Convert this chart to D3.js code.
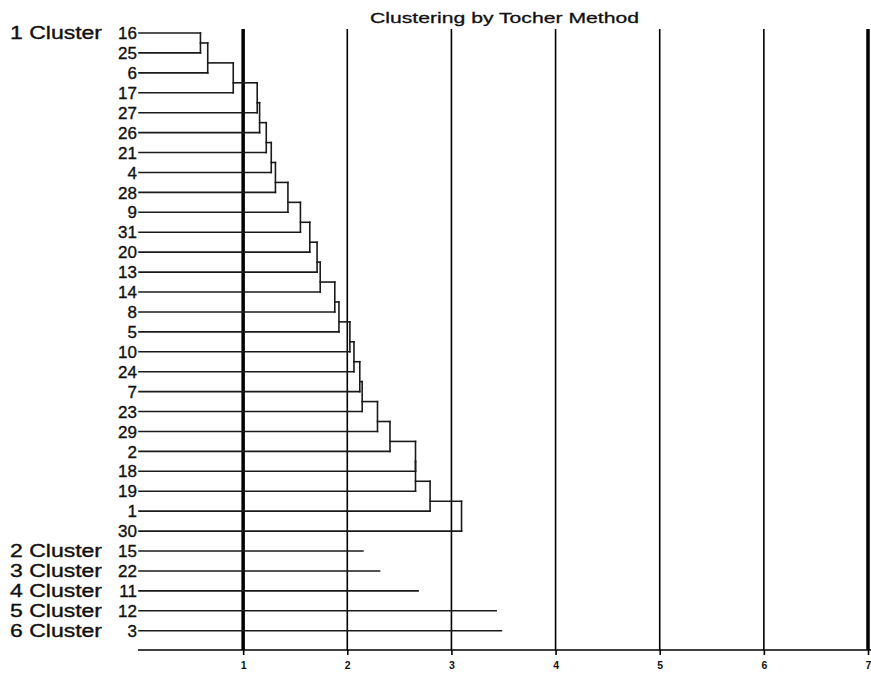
<!DOCTYPE html>
<html>
<head>
<meta charset="utf-8">
<script src="https://cdn.jsdelivr.net/npm/d3@7"></script>
<style>
  html, body { margin: 0; padding: 0; background: #fff; }
  svg { display: block; }
  text { font-family: "Liberation Sans", Arial, sans-serif; fill: #111; }
</style>
</head>
<body>
<svg id="chart" width="871" height="673"></svg>
<script>
// Leaves of cluster 1 in dendrogram order
const cluster1Leaves = ["16","25","6","17","27","26","21","4","28","9","31","20","13","14","8","5","10","24","7","23","29","2","18","19","1","30"];
// Height (distance) at which each leaf (index 1..25) joins the growing cluster
const joinHeights = [null,0.59,0.66,0.905,1.135,1.158,1.222,1.27,1.31,1.43,1.55,1.64,1.71,1.74,1.88,1.92,2.025,2.064,2.12,2.143,2.29,2.41,2.655,2.655,2.795,3.097];
// Singleton clusters and their line lengths
const singletonLeaves = ["15","22","11","12","3"];
const singletonValues = [2.15, 2.31, 2.68, 3.43, 3.48];
// Cluster labels and the leaf each one sits beside
const clusterNames = ["1 Cluster","2 Cluster","3 Cluster","4 Cluster","5 Cluster","6 Cluster"];
const clusterFirstLeaf = ["16","15","22","11","12","3"];
// Axis ticks
const tickValues = [1,2,3,4,5,6,7];
const titleText = "Clustering by Tocher Method";

const svg = d3.select("#chart");
const x = d3.scaleLinear().domain([0, 7]).range([139, 868]);
const allLeaves = cluster1Leaves.concat(singletonLeaves);
const y = d3.scalePoint().domain(allLeaves).range([33, 630.7]);
const axisY = 650;

// Gridlines
svg.append("g").selectAll("line").data(tickValues).join("line")
  .attr("x1", d => x(d)).attr("x2", d => x(d))
  .attr("y1", 29).attr("y2", axisY)
  .attr("stroke", "#000")
  .attr("stroke-width", d => (d === 1 || d === 7) ? 3.5 : 1.6);

// Axis
const axis = d3.axisBottom(x).tickValues(tickValues).tickSize(5).tickSizeOuter(0).tickFormat(d3.format("d"));
const ax = svg.append("g").attr("transform", `translate(0,${axisY})`).call(axis);
ax.select(".domain").attr("stroke", "#000").attr("stroke-width", 1.6)
  .attr("d", `M${x(0) - 1},0H871`);
ax.selectAll(".tick line").attr("stroke", "#000").attr("stroke-width", 1.6);
ax.selectAll(".tick text").attr("y", 12).attr("font-size", 10.5).attr("font-weight", "bold")
  .attr("font-family", "'Liberation Sans', Arial, sans-serif").attr("fill", "#111");

// Dendrogram segments
const segs = [];
const yl = i => y(cluster1Leaves[i]);
const nodeY = k => k === 0 ? yl(0) : (yl(k - 1) + yl(k)) / 2;
cluster1Leaves.forEach((leaf, i) => {
  const h = i === 0 ? joinHeights[1] : joinHeights[i];
  segs.push([x(0), yl(i), x(h), yl(i)]);
});
for (let k = 1; k < cluster1Leaves.length; k++) {
  const h = joinHeights[k];
  segs.push([x(h), nodeY(k - 1), x(h), yl(k)]);
  if (k >= 2) segs.push([x(joinHeights[k - 1]), nodeY(k - 1), x(h), nodeY(k - 1)]);
}
singletonLeaves.forEach((leaf, i) => {
  segs.push([x(0), y(leaf), x(singletonValues[i]), y(leaf)]);
});
svg.append("g").selectAll("line").data(segs).join("line")
  .attr("x1", d => d[0]).attr("y1", d => d[1]).attr("x2", d => d[2]).attr("y2", d => d[3])
  .attr("stroke", "#1a1a1a").attr("stroke-width", 1.6).attr("stroke-linecap", "square");

// Leaf labels
svg.append("g").selectAll("text").data(allLeaves).join("text")
  .attr("x", 137).attr("y", d => y(d)).attr("dy", "0.36em")
  .attr("text-anchor", "end").attr("font-size", 17)
  .attr("stroke", "#111").attr("stroke-width", 0.35)
  .text(d => d);

// Cluster labels
svg.append("g").selectAll("text").data(clusterNames).join("text")
  .attr("x", 10).attr("y", (d, i) => y(clusterFirstLeaf[i])).attr("dy", "0.36em")
  .attr("font-size", 18).attr("textLength", 92).attr("lengthAdjust", "spacingAndGlyphs")
  .attr("stroke", "#111").attr("stroke-width", 0.35)
  .text(d => d);

// Title
svg.append("text").attr("x", 370).attr("y", 23).attr("font-size", 15.5)
  .attr("textLength", 269).attr("lengthAdjust", "spacingAndGlyphs")
  .attr("stroke", "#111").attr("stroke-width", 0.3)
  .text(titleText);
</script>
</body>
</html>
